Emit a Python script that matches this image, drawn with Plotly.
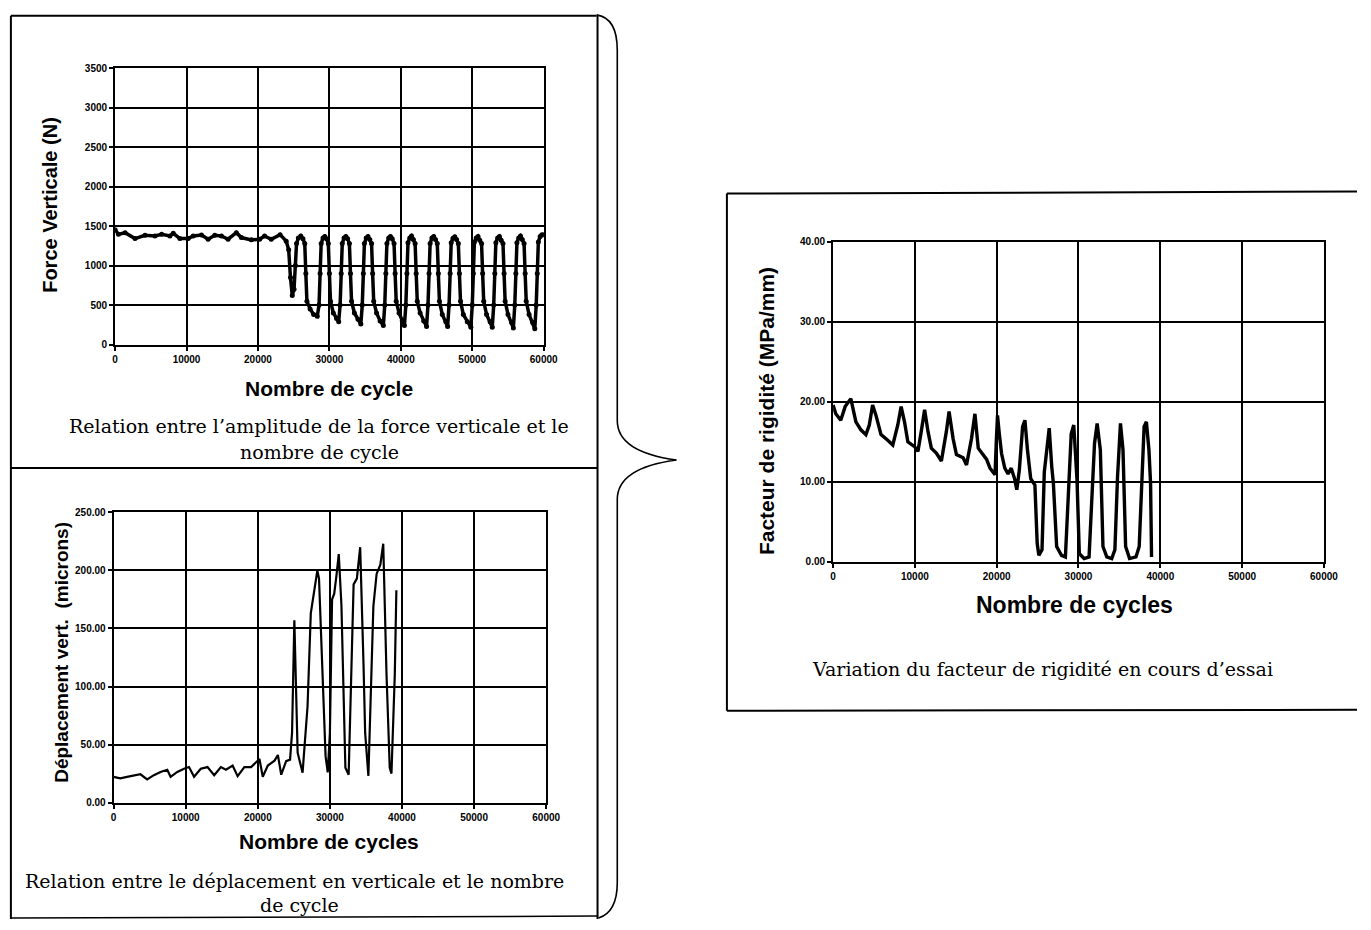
import plotly.graph_objects as go

# ---------------- data ----------------
# Top-left: force amplitude vs cycles
force_cycles = [0, 465, 1395, 2790, 4186, 5581, 6512, 7674, 8140, 9070, 10233, 10930, 12093, 13023,
                13953, 14884, 15814, 16977, 17674, 19070, 20233, 20930, 21860, 23100, 23955,
                24300, 24550, 24800, 25050, 25250, 25400, 25650, 26000, 26300, 26550, 26700, 26850,
                27300, 27800, 28300, 28550, 28700, 28850, 29100, 29350, 29600, 29850, 30000, 30150,
                30550, 31000, 31300, 31500, 31650, 31800, 32050, 32300, 32550, 32800, 32950, 33100,
                33500, 34000, 34400, 34600, 34750, 34900, 35150, 35400, 35650, 35900, 36050, 36200,
                36600, 37100, 37550, 37750, 37900, 38050, 38300, 38550, 38800, 39050, 39200, 39350,
                39750, 40200, 40500, 40700, 40850, 41000, 41250, 41500, 41750, 42000, 42150, 42300,
                42700, 43200, 43600, 43800, 43950, 44100, 44350, 44600, 44850, 45100, 45250, 45400,
                45800, 46300, 46550, 46750, 46900, 47050, 47300, 47550, 47800, 48050, 48200, 48350,
                48750, 49300, 49800, 50000, 50150, 50300, 50550, 50800, 51050, 51300, 51450, 51600,
                52000, 52500, 52800, 53000, 53150, 53300, 53550, 53800, 54050, 54300, 54450, 54600,
                55000, 55500, 55750, 55950, 56100, 56250, 56500, 56750, 57000, 57250, 57400, 57550,
                57950, 58450, 58750, 58950, 59100, 59250, 59500, 59750, 60000]
force_values = [1455, 1396, 1417, 1342, 1384, 1375, 1396, 1375, 1409, 1342, 1342, 1375, 1388, 1334,
                1384, 1375, 1334, 1417, 1355, 1326, 1334, 1375, 1334, 1392, 1310,
                1200, 850, 620, 700, 1000, 1280, 1350, 1375, 1340, 1280, 900, 550,
                450, 380, 360, 500, 900, 1280, 1350, 1370, 1340, 1280, 900, 550,
                400, 330, 290, 500, 900, 1280, 1350, 1370, 1340, 1280, 900, 550,
                400, 320, 260, 500, 900, 1280, 1350, 1370, 1330, 1280, 900, 550,
                400, 300, 240, 500, 900, 1280, 1350, 1370, 1340, 1280, 900, 550,
                400, 300, 240, 500, 900, 1290, 1350, 1375, 1330, 1280, 900, 550,
                400, 300, 230, 500, 900, 1280, 1350, 1370, 1330, 1280, 900, 550,
                380, 290, 230, 500, 900, 1290, 1345, 1365, 1330, 1280, 900, 550,
                380, 290, 220, 500, 900, 1300, 1350, 1370, 1320, 1280, 900, 550,
                380, 290, 220, 500, 900, 1290, 1350, 1370, 1320, 1280, 900, 550,
                380, 280, 210, 500, 900, 1290, 1350, 1375, 1330, 1280, 900, 550,
                380, 280, 200, 500, 900, 1300, 1370, 1390, 1390]

# Bottom-left: vertical displacement vs cycles
disp_cycles = [0, 930, 1860, 2790, 3720, 4650, 5580, 6510, 7440, 7905, 8835, 9765, 10460, 11160,
               12090, 13020, 13950, 14880, 15580, 16510, 17200, 18135, 19065, 19760, 20230, 20690,
               21390, 22320, 22785, 23250, 23930, 24475, 24750, 25070, 25300, 25525, 26210, 26900,
               27350, 27800, 28260, 28490, 28950, 29400, 29700, 30000, 30300, 30600, 30900, 31230,
               31600, 31900, 32150, 32600, 33060, 33290, 33740, 34200, 34660, 34890, 35340, 36030,
               36480, 37000, 37400, 37850, 38300, 38540, 39000, 39220]
disp_values = [22.2, 20.8, 22.2, 23.6, 24.4, 20.0, 23.6, 26.4, 28.3, 22.2, 26.4, 29.2, 30.6, 22.2,
               29.2, 30.6, 23.6, 30.6, 28.3, 31.9, 22.8, 30.6, 30.6, 34.7, 37.5, 22.2,
               31.9, 36.1, 41.0, 24.0, 35.7, 37.0, 60.0, 157.0, 88.0, 43.0, 25.7, 83.0,
               163.0, 180.0, 200.0, 193.0, 111.0, 40.0, 26.0, 60.0, 175.0, 180.0, 195.0, 214.0,
               170.0, 80.0, 30.0, 24.0, 140.0, 188.0, 193.0, 220.0, 120.0, 60.0, 23.0, 169.0,
               197.0, 205.0, 223.0, 111.0, 30.0, 25.0, 110.0, 183.0]

# Right: stiffness factor vs cycles
stiff_cycles = [0, 330, 940, 1475, 2170, 2790, 3400, 4015, 4425, 4835, 5245, 5860, 6680, 7300,
                7910, 8320, 8730, 9140, 9960, 10370, 10780, 11190, 11600, 12010, 12620, 13240,
                13850, 14180, 14670, 15080, 15900, 16310, 16920, 17340, 17745, 18360, 18770, 19180,
                19800, 19950, 20100, 20320, 20600, 20990, 21390, 21780, 22180, 22460, 22770, 23170,
                23450, 23760, 24160, 24670, 24950, 25150, 25540, 25820, 26140, 26420, 26730, 26930,
                27330, 27920, 28400, 28800, 29110, 29420, 29820, 30100, 30690, 31290, 31680, 31960,
                32280, 32670, 32990, 33460, 34060, 34450, 34770, 35130, 35440, 35760, 36240, 37030,
                37420, 37740, 38020, 38300, 38610, 38810, 38930]
stiff_values = [19.6, 18.5, 17.7, 19.4, 20.4, 17.5, 16.5, 15.9, 17.1, 19.6, 18.3, 15.9, 15.2, 14.6,
                17.1, 19.4, 17.5, 15.0, 14.4, 13.8, 16.3, 19.0, 16.3, 14.2, 13.6, 12.6,
                16.3, 18.8, 15.4, 13.4, 13.0, 12.1, 15.4, 18.5, 14.2, 13.4, 12.8, 11.7,
                10.9, 15.0, 18.3, 16.0, 13.5, 11.7, 11.0, 11.7, 10.4, 9.0, 11.5, 16.9,
                17.7, 14.0, 10.4, 9.6, 2.3, 0.8, 1.5, 11.2, 14.0, 16.7, 11.9, 9.8,
                1.9, 0.8, 0.6, 10.6, 16.0, 17.1, 10.2, 1.0, 0.4, 0.6, 10.2, 14.8,
                17.3, 14.0, 1.9, 0.6, 0.4, 1.5, 10.6, 17.3, 14.0, 1.9, 0.4, 0.6,
                1.9, 9.8, 16.9, 17.5, 14.0, 9.8, 0.6]

cycle_ticks = [0, 10000, 20000, 30000, 40000, 50000, 60000]
cycle_labels = ["0", "10000", "20000", "30000", "40000", "50000", "60000"]
force_ticks = [0, 500, 1000, 1500, 2000, 2500, 3000, 3500]
force_labels = ["0", "500", "1000", "1500", "2000", "2500", "3000", "3500"]
disp_ticks = [0, 50, 100, 150, 200, 250]
disp_labels = ["0.00", "50.00", "100.00", "150.00", "200.00", "250.00"]
stiff_ticks = [0, 10, 20, 30, 40]
stiff_labels = ["0.00", "10.00", "20.00", "30.00", "40.00"]

# ---------------- layout helpers ----------------
W, H = 1371, 930


def px(x):
    return x / W


def py(y):
    return 1 - y / H


fig = go.Figure()
fig.add_trace(go.Scatter(x=force_cycles, y=force_values, mode="lines+markers",
                         line=dict(color="black", width=3.5), marker=dict(color="black", size=5),
                         xaxis="x", yaxis="y", showlegend=False))
fig.add_trace(go.Scatter(x=disp_cycles, y=disp_values, mode="lines",
                         line=dict(color="black", width=2.2),
                         xaxis="x2", yaxis="y2", showlegend=False))
fig.add_trace(go.Scatter(x=stiff_cycles, y=stiff_values, mode="lines",
                         line=dict(color="black", width=3.4),
                         xaxis="x3", yaxis="y3", showlegend=False))

tickfont = dict(family="Liberation Sans", size=10, color="black", weight="bold")


def axis(domain, rng, tv, tt, anchor):
    return dict(domain=domain, range=rng, tickvals=tv, ticktext=tt, anchor=anchor,
                showline=True, linecolor="black", linewidth=2, mirror=True,
                showgrid=True, gridcolor="black", gridwidth=2, zeroline=False,
                ticks="outside", ticklen=4, tickwidth=1.5, tickcolor="black",
                tickfont=tickfont, fixedrange=True)


fig.update_layout(
    width=W, height=H, autosize=False,
    margin=dict(l=0, r=0, t=0, b=0),
    paper_bgcolor="white", plot_bgcolor="white",
    xaxis=axis([px(113.5), px(547.5)], [0, 60000], cycle_ticks, cycle_labels, "y"),
    yaxis=axis([py(343), py(63)], [0, 3500], force_ticks, force_labels, "x"),
    xaxis2=axis([px(112), px(550)], [0, 60000], cycle_ticks, cycle_labels, "y2"),
    yaxis2=axis([py(807), py(513)], [0, 250], disp_ticks, disp_labels, "x2"),
    xaxis3=axis([px(840.5), px(1337.5)], [0, 60000], cycle_ticks, cycle_labels, "y3"),
    yaxis3=axis([py(563), py(239)], [0, 40], stiff_ticks, stiff_labels, "x3"),
)

bold = dict(family="Liberation Sans", color="black", weight="bold")
serif = dict(family="DejaVu Serif", color="black")


def note(text, x, y, size, font, angle=0):
    fig.add_annotation(text=text, x=px(x), y=py(y), xref="paper", yref="paper",
                       showarrow=False, textangle=angle, xanchor="center", yanchor="middle",
                       font=dict(size=size, **font))


note("Force Verticale (N)", 48, 201, 20, bold, -90)
note("Nombre de cycle", 330, 388, 21, bold)
note("Relation entre l’amplitude de la force verticale et le", 320, 425, 19, serif)
note("nombre de cycle", 320, 452, 19, serif)

note("Déplacement vert.  (microns)", 59, 655, 19, bold, -90)
note("Nombre de cycles", 330, 846, 21, bold)
note("Relation entre le déplacement en verticale et le nombre", 295, 886, 19, serif)
note("de cycle", 300, 911, 19, serif)

note("Facteur de rigidité (MPa/mm)", 773, 410, 21, bold, -90)
note("Nombre de cycles", 1085, 607, 23, bold)
note("Variation du facteur de rigidité en cours d’essai", 1053, 672, 19, serif)


def seg(x0, y0, x1, y1, w=2):
    fig.add_shape(type="line", xref="paper", yref="paper", x0=px(x0), y0=py(y0), x1=px(x1), y1=py(y1),
                  line=dict(color="black", width=w))


# frames around the panels
seg(8, 10, 601, 10)
seg(8, 10, 8, 925)
seg(602, 10, 602, 925)
seg(8, 468, 602, 468)
seg(8, 924, 602, 922, 1.5)
seg(733, 190, 1371, 188)
seg(733, 190, 733, 714)
seg(733, 714, 1371, 713)

# curly brace
pts = [("M", 601, 9), ("Q", 622, 12, 622, 45), ("L", 622, 420), ("Q", 622, 452, 682, 460),
       ("Q", 622, 468, 622, 500), ("L", 622, 888), ("Q", 622, 918, 603, 924)]
path = ""
for p in pts:
    cmd = p[0]
    coords = p[1:]
    parts = []
    for i in range(0, len(coords), 2):
        parts.append(f"{px(coords[i]):.5f},{py(coords[i + 1]):.5f}")
    path += cmd + " " + " ".join(parts) + " "
fig.add_shape(type="path", path=path.strip(), xref="paper", yref="paper",
              line=dict(color="black", width=1.6))

fig.write_html("out.html", config={"displayModeBar": False},
               post_script="document.body.style.margin='0';document.body.style.overflow='hidden';")
